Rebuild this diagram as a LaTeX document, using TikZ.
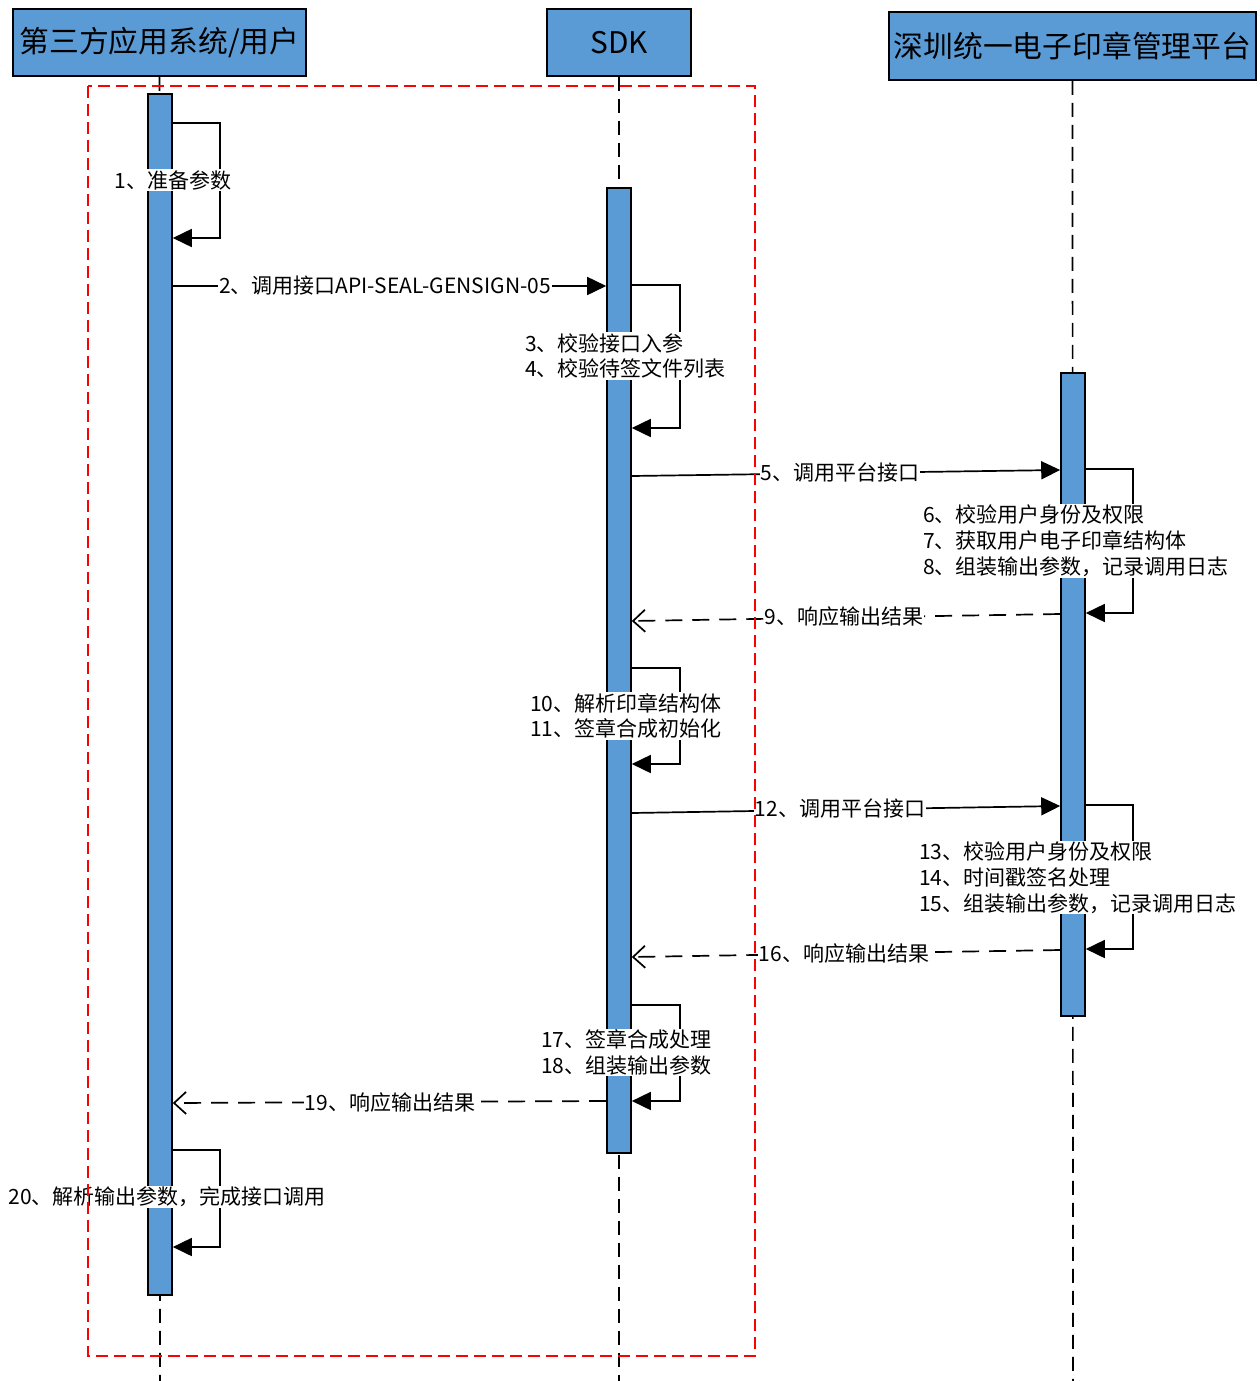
\documentclass[tikz,border=0pt]{standalone}
\usepackage{fontspec}
\setmainfont{Noto Sans CJK SC}
\usetikzlibrary{arrows.meta,calc}
\definecolor{barblue}{HTML}{5B9BD5}
\definecolor{boxred}{HTML}{FF0000}
\tikzset{
  head/.style={draw=black, line width=1.8pt, fill=barblue, inner sep=0pt, font=\fontsize{29.8}{32}\selectfont},
  actbar/.style={draw=black, line width=1.6pt, fill=barblue, minimum width=24pt, inner sep=0pt},
  life/.style={line width=1.7pt, dash pattern=on 14pt off 8pt},
  msg/.style={line width=1.7pt, -{Triangle[length=19pt,width=18pt]}},
  reply/.style={line width=1.7pt, dash pattern=on 17pt off 10pt, -{Straight Barb[length=12pt,width=22pt,line width=1.7pt]}},
  lbl/.style={fill=white, inner sep=1pt, font=\fontsize{21}{25.8}\selectfont, align=left},
}
\begin{document}
\begin{tikzpicture}[x=1pt,y=-1pt]
\useasboundingbox (0,0) rectangle (1260,1381);
% headers
\node[head, minimum width=293pt, minimum height=67pt] (h1) at (159.5,42.5) {第三方应用系统/用户};
\node[head, minimum width=144pt, minimum height=67pt] (h2) at (619,42.5) {SDK};
\node[head, minimum width=367pt, minimum height=68pt] (h3) at (1072.5,46) {深圳统一电子印章管理平台};
% lifelines
\coordinate (e1) at (160,1381);
\coordinate (e2) at (619,1381);
\coordinate (e3) at (1073,1381);
\draw[life] (h1.south) -- (e1);
\draw[life] (h2.south) -- (e2);
\draw[life] (h3.south) -- (e3);
% activation bars
\node[actbar, minimum height=1201pt] (a1) at (160,694.5) {};
\node[actbar, minimum height=965pt] (a2) at (619,670.5) {};
\node[actbar, minimum height=643pt] (a3) at (1073,694.5) {};
% 1 self
\draw[msg] (a1.east |- 0,123) -- (220,123) -- (220,238) -- (a1.east |- 0,238);
\node[lbl] (l1) at (173,180) {1、准备参数};
% 2
\draw[msg] (a1.east |- 0,286) -- (a2.west |- 0,286);
\node[lbl] (l2) at (385,286) {2、调用接口API-SEAL-GENSIGN-05};
% 3-4 self
\draw[msg] (a2.east |- 0,285) -- (680,285) -- (680,428) -- (a2.east |- 0,428);
\node[lbl, anchor=west] (l3) at (524,356) {3、校验接口入参\\4、校验待签文件列表};
% 5
\draw[msg] (a2.east |- 0,476) -- (a3.west |- 0,470);
\node[lbl] (l5) at (840,473) {5、调用平台接口};
% 6-8 self
\draw[msg] (a3.east |- 0,469) -- (1133,469) -- (1133,613) -- (a3.east |- 0,613);
\node[lbl, anchor=west] (l6) at (922,541) {6、校验用户身份及权限\\7、获取用户电子印章结构体\\8、组装输出参数，记录调用日志};
% 9
\draw[reply] (a3.west |- 0,614) -- (a2.east |- 0,621);
\node[lbl] (l9) at (844,617) {9、响应输出结果};
% 10-11 self
\draw[msg] (a2.east |- 0,668) -- (680,668) -- (680,764) -- (a2.east |- 0,764);
\node[lbl, anchor=west] (l10) at (529,716) {10、解析印章结构体\\11、签章合成初始化};
% 12
\draw[msg] (a2.east |- 0,813) -- (a3.west |- 0,806);
\node[lbl] (l12) at (840,809) {12、调用平台接口};
% 13-15 self
\draw[msg] (a3.east |- 0,805) -- (1133,805) -- (1133,949) -- (a3.east |- 0,949);
\node[lbl, anchor=west] (l13) at (918,877.5) {13、校验用户身份及权限\\14、时间戳签名处理\\15、组装输出参数，记录调用日志};
% 16
\draw[reply] (a3.west |- 0,950) -- (a2.east |- 0,957);
\node[lbl] (l16) at (844,953) {16、响应输出结果};
% 17-18 self
\draw[msg] (a2.east |- 0,1005) -- (680,1005) -- (680,1101) -- (a2.east |- 0,1101);
\node[lbl, anchor=west] (l17) at (540,1052.5) {17、签章合成处理\\18、组装输出参数};
% 19
\draw[reply] (a2.west |- 0,1101) -- (a1.east |- 0,1103);
\node[lbl] (l19) at (390,1102) {19、响应输出结果};
% 20 self
\draw[msg] (a1.east |- 0,1150) -- (220,1150) -- (220,1247) -- (a1.east |- 0,1247);
\node[lbl] (l20) at (167,1197) {20、解析输出参数，完成接口调用};
% red dashed frame
\draw[boxred, line width=1.6pt, dash pattern=on 12pt off 6pt] (88,86) rectangle (755,1356);
\end{tikzpicture}
\end{document}
